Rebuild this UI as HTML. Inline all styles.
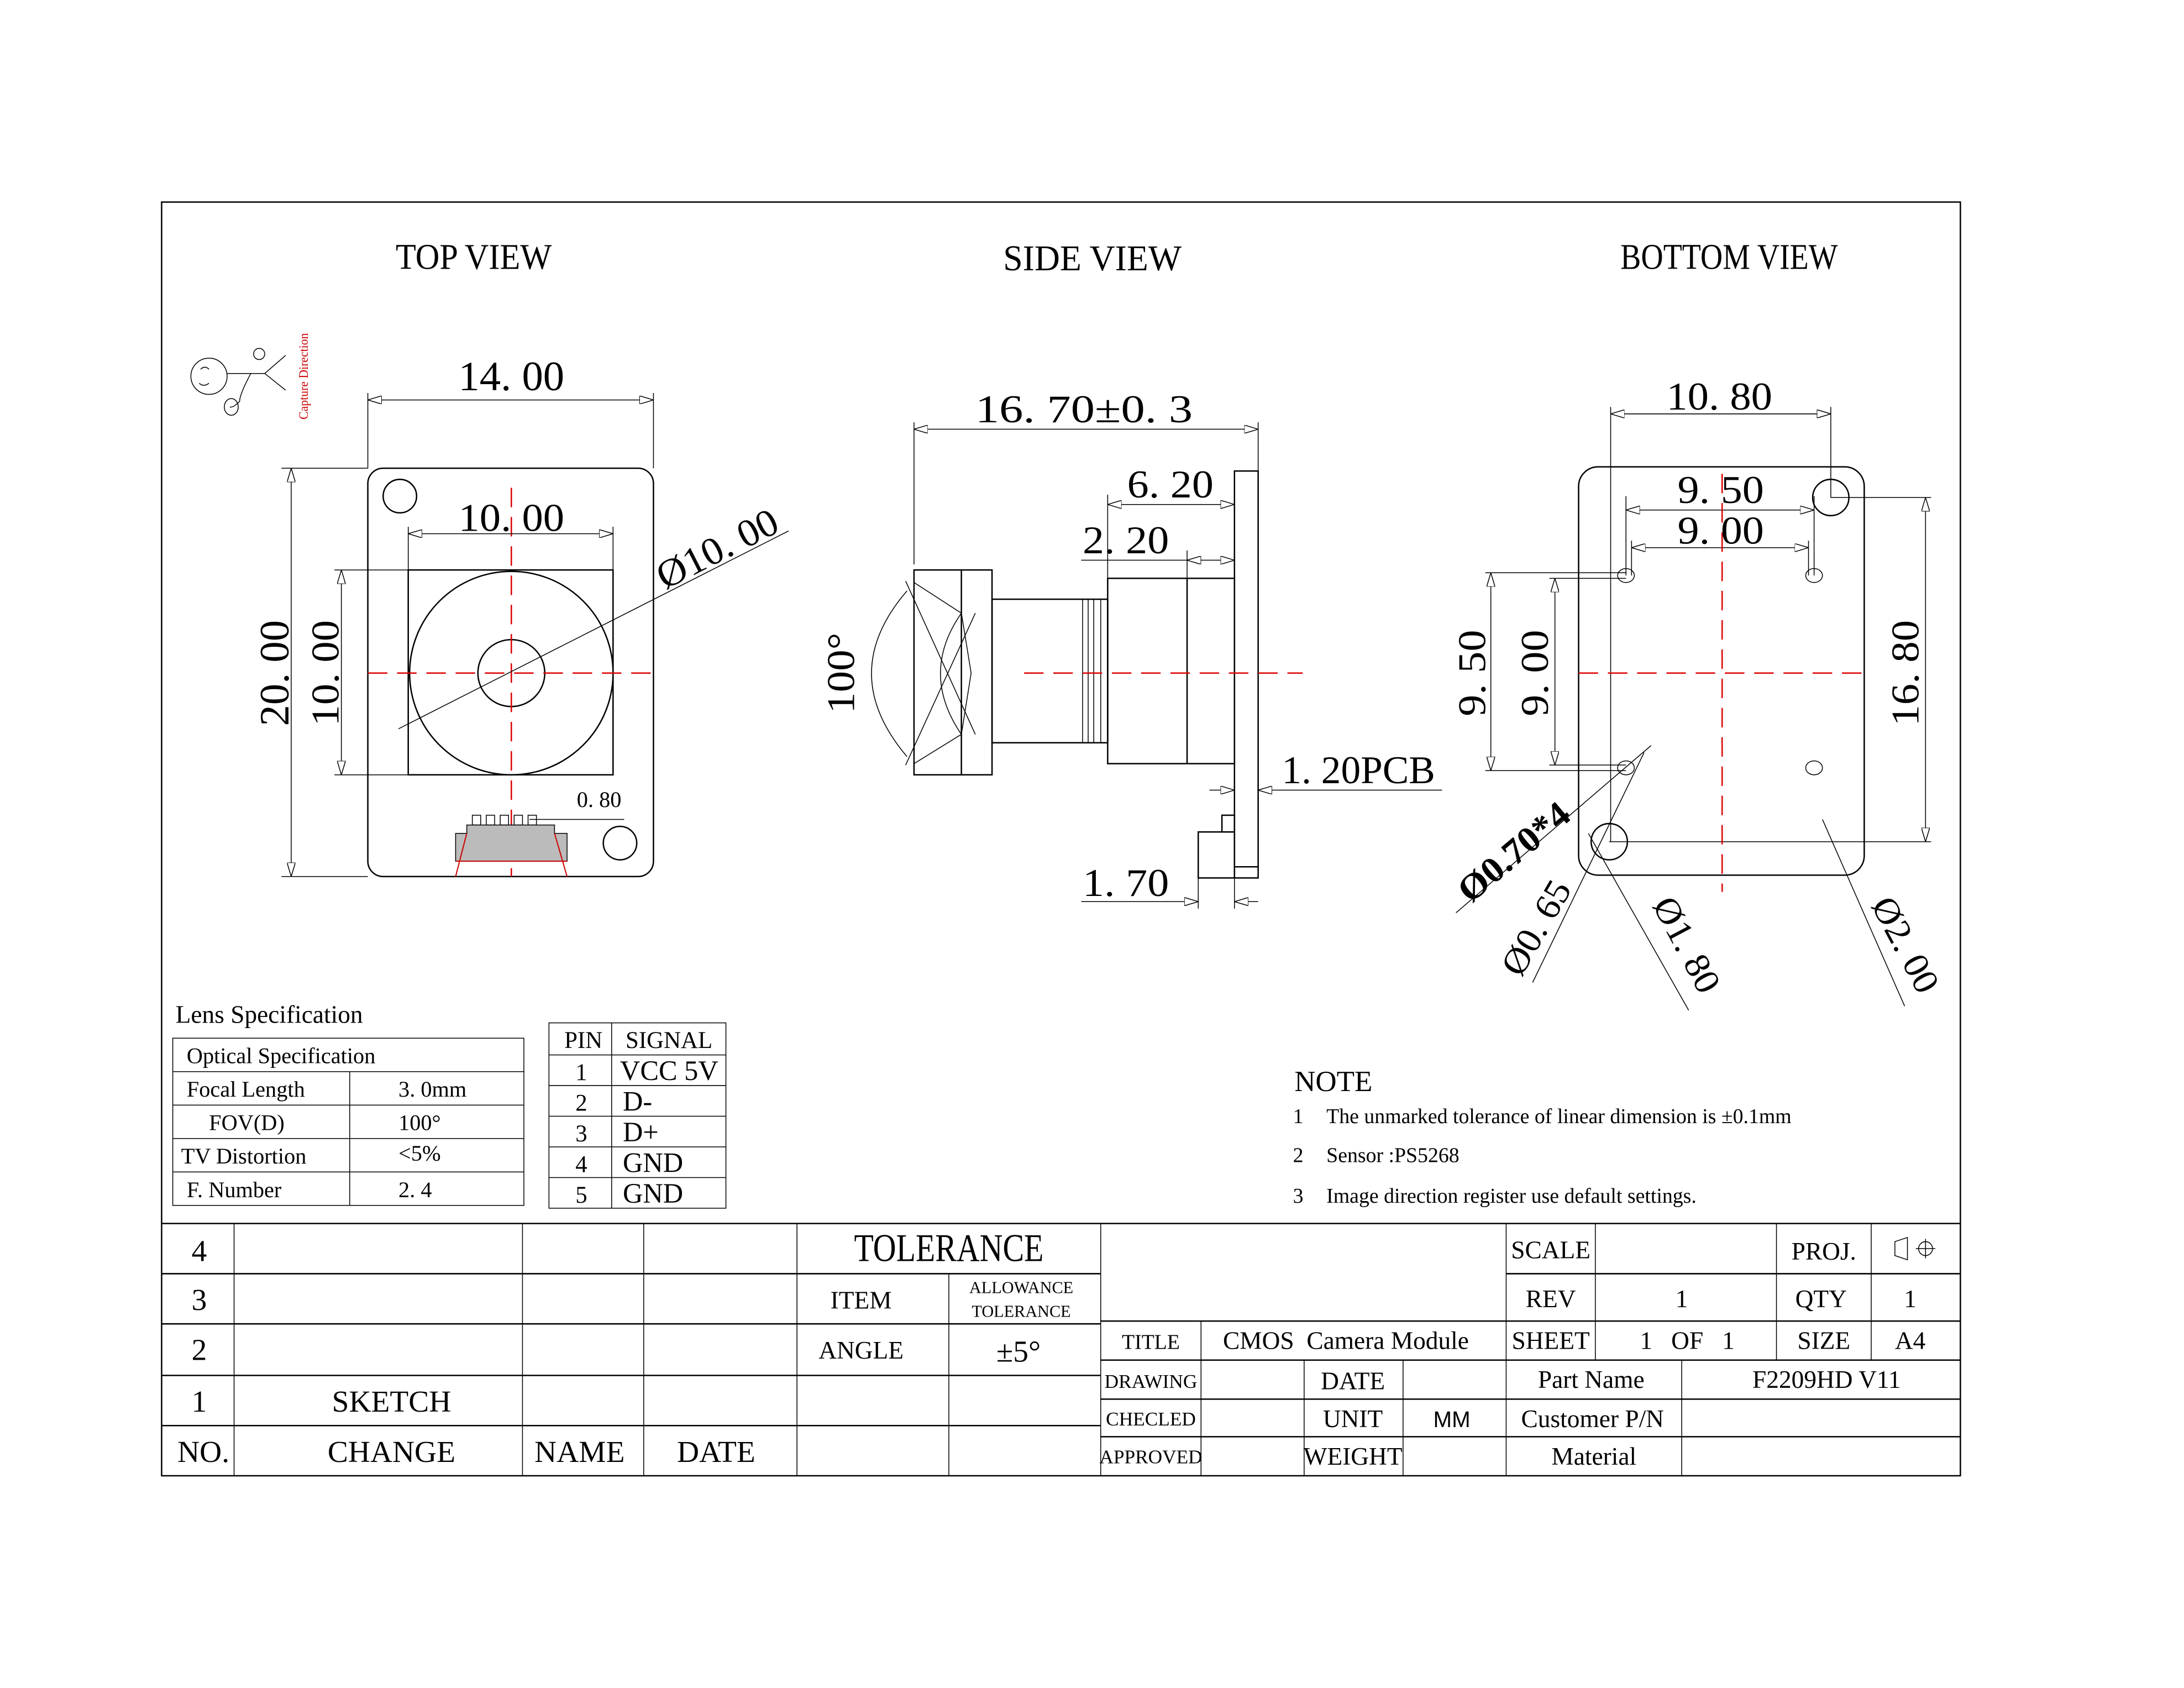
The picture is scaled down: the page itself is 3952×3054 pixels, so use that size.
<!DOCTYPE html>
<html><head><meta charset="utf-8"><style>
html,body{margin:0;padding:0;background:#fff}
svg{display:block}
text{font-family:"Liberation Serif",serif;fill:#000}
.l{stroke:#000;stroke-width:1;fill:none}
.t{stroke:#000;stroke-width:0.6;fill:none}
.r{stroke:#d00;stroke-width:1;fill:none;stroke-dasharray:14 7}
</style></head><body>
<svg width="3952" height="3054" viewBox="0 0 1567.5 1211.3" preserveAspectRatio="none" xmlns="http://www.w3.org/2000/svg">
<defs>
<marker id="a" viewBox="0 0 10 6" refX="10" refY="3" markerWidth="10" markerHeight="6" orient="auto-start-reverse" markerUnits="userSpaceOnUse"><path d="M0,0 L10,3 L0,6 Z" fill="#fff" stroke="#000" stroke-width="0.6"/></marker>
</defs>
<rect x="116" y="145" width="1291" height="914" class="l"/>
<text x="340" y="193" font-size="26" text-anchor="middle" textLength="112" lengthAdjust="spacingAndGlyphs">TOP VIEW</text>
<text x="784" y="194" font-size="26" text-anchor="middle" textLength="128" lengthAdjust="spacingAndGlyphs">SIDE VIEW</text>
<text x="1241" y="193" font-size="26" text-anchor="middle" textLength="156" lengthAdjust="spacingAndGlyphs">BOTTOM VIEW</text>

<g class="t">
<circle cx="150" cy="270" r="13"/>
<path d="M144,265 q3,-3 6,0 M150,275 q-4,3 -7,0"/>
<path d="M163,268 L190,268 L205,255 M190,268 L205,280 M180,268 q-8,15 -8,20 q-5,5 -7,4"/>
<circle cx="186" cy="254" r="4"/>
<ellipse cx="166" cy="292" rx="5" ry="6"/>
</g>
<text transform="translate(221,301) rotate(-90)" font-size="9" style="fill:#c00" textLength="62" lengthAdjust="spacingAndGlyphs">Capture Direction</text>

<rect x="264" y="336" width="205" height="293" rx="11" class="l"/>
<circle cx="287" cy="356" r="12" class="l"/>
<circle cx="445" cy="605" r="12" class="l"/>
<rect x="293" y="409" width="147" height="147" class="l"/>
<circle cx="367" cy="483" r="73" class="l"/>
<circle cx="367" cy="483" r="24" class="l"/>
<line x1="264" y1="483" x2="469" y2="483" class="r"/>
<line x1="367" y1="350" x2="367" y2="629" class="r"/>
<g class="t">
<line x1="264" y1="282" x2="264" y2="336"/><line x1="469" y1="282" x2="469" y2="336"/>
<line x1="264" y1="287" x2="469" y2="287" marker-start="url(#a)" marker-end="url(#a)"/>
<line x1="293" y1="378" x2="293" y2="409"/><line x1="440" y1="378" x2="440" y2="409"/>
<line x1="293" y1="383" x2="440" y2="383" marker-start="url(#a)" marker-end="url(#a)"/>
<line x1="202" y1="336" x2="264" y2="336"/><line x1="202" y1="629" x2="264" y2="629"/>
<line x1="209" y1="336" x2="209" y2="629" marker-start="url(#a)" marker-end="url(#a)"/>
<line x1="240" y1="409" x2="293" y2="409"/><line x1="240" y1="556" x2="293" y2="556"/>
<line x1="245" y1="409" x2="245" y2="556" marker-start="url(#a)" marker-end="url(#a)"/>
<line x1="286" y1="523" x2="566" y2="381"/>
<line x1="380" y1="588" x2="448" y2="588"/>
</g>
<text x="367" y="280" font-size="30" text-anchor="middle" textLength="76" lengthAdjust="spacingAndGlyphs">14. 00</text>
<text x="367" y="381" font-size="28" text-anchor="middle" textLength="76" lengthAdjust="spacingAndGlyphs">10. 00</text>
<text transform="translate(207,483) rotate(-90)" font-size="30" text-anchor="middle" textLength="76" lengthAdjust="spacingAndGlyphs">20. 00</text>
<text transform="translate(243,483) rotate(-90)" font-size="28" text-anchor="middle" textLength="76" lengthAdjust="spacingAndGlyphs">10. 00</text>
<text transform="translate(519,402) rotate(-27)" font-size="28" text-anchor="middle" textLength="94" lengthAdjust="spacingAndGlyphs">Ø10. 00</text>
<text x="430" y="579" font-size="16" text-anchor="middle">0. 80</text>
<g class="t">
<rect x="339" y="585" width="6" height="7"/><rect x="349" y="585" width="6" height="7"/><rect x="359" y="585" width="6" height="7"/><rect x="369" y="585" width="6" height="7"/><rect x="379" y="585" width="6" height="7"/>
</g>
<path d="M327,598 L335,598 L335,592 L398,592 L398,598 L407,598 L407,618 L327,618 Z" fill="#bbb" stroke="#000" stroke-width="0.6"/>
<path d="M335,598 L327,629 M398,598 L407,629 M327,618 L407,618" stroke="#c00" stroke-width="0.8" fill="none"/>

<g class="l">
<rect x="886" y="338" width="17" height="292"/>
<line x1="886" y1="622" x2="903" y2="622"/>
<rect x="860" y="597" width="26" height="33"/>
<rect x="877" y="585" width="9" height="12"/>
<rect x="795" y="415" width="91" height="133"/>
<line x1="852" y1="415" x2="852" y2="548"/>
<rect x="712" y="430" width="83" height="103"/>
<rect x="656" y="409" width="56" height="147"/>
<line x1="690" y1="409" x2="690" y2="556"/>
</g>
<g class="t">
<line x1="777" y1="430" x2="777" y2="533"/><line x1="781" y1="430" x2="781" y2="533"/><line x1="785" y1="430" x2="785" y2="533"/><line x1="790" y1="430" x2="790" y2="533"/>
<path d="M656,418 L690,440 L697,483 L690,527 L656,548"/>
<path d="M690,440 Q660,483 690,527"/>
<path d="M651,424 Q600,483 651,543"/>
<line x1="650" y1="417" x2="700" y2="527"/><line x1="650" y1="549" x2="700" y2="440"/>
<line x1="656" y1="303" x2="656" y2="405"/><line x1="903" y1="303" x2="903" y2="338"/>
<line x1="656" y1="308" x2="903" y2="308" marker-start="url(#a)" marker-end="url(#a)"/>
<line x1="795" y1="355" x2="795" y2="415"/>
<line x1="795" y1="362" x2="886" y2="362" marker-start="url(#a)" marker-end="url(#a)"/>
<line x1="852" y1="395" x2="852" y2="415"/>
<line x1="776" y1="402" x2="852" y2="402"/>
<line x1="852" y1="402" x2="886" y2="402" marker-start="url(#a)" marker-end="url(#a)"/>
<line x1="868" y1="567" x2="886" y2="567" marker-end="url(#a)"/>
<line x1="1035" y1="567" x2="903" y2="567" marker-end="url(#a)"/>
<line x1="860" y1="630" x2="860" y2="652"/><line x1="886" y1="630" x2="886" y2="652"/>
<line x1="776" y1="647" x2="860" y2="647" marker-end="url(#a)"/>
<line x1="903" y1="647" x2="886" y2="647" marker-end="url(#a)"/>
</g>
<line x1="735" y1="483" x2="935" y2="483" class="r"/>
<text x="778" y="303" font-size="28" text-anchor="middle" textLength="156" lengthAdjust="spacingAndGlyphs">16. 70±0. 3</text>
<text x="840" y="357" font-size="28" text-anchor="middle" textLength="62" lengthAdjust="spacingAndGlyphs">6. 20</text>
<text x="808" y="397" font-size="28" text-anchor="middle" textLength="62" lengthAdjust="spacingAndGlyphs">2. 20</text>
<text x="920" y="562" font-size="28" textLength="110" lengthAdjust="spacingAndGlyphs">1. 20PCB</text>
<text x="808" y="643" font-size="28" text-anchor="middle" textLength="62" lengthAdjust="spacingAndGlyphs">1. 70</text>
<text transform="translate(613,483) rotate(-90)" font-size="28" text-anchor="middle" textLength="58" lengthAdjust="spacingAndGlyphs">100°</text>

<rect x="1133" y="335" width="205" height="293" rx="14" class="l"/>
<circle cx="1314" cy="357" r="13" class="l"/>
<circle cx="1155" cy="604" r="13" class="l"/>
<g class="t">
<ellipse cx="1167" cy="413" rx="6" ry="5"/><ellipse cx="1302" cy="413" rx="6" ry="5"/>
<ellipse cx="1167" cy="551" rx="6" ry="5"/><ellipse cx="1302" cy="551" rx="6" ry="5"/>
<line x1="1156" y1="292" x2="1156" y2="604"/><line x1="1314" y1="292" x2="1314" y2="357"/>
<line x1="1156" y1="297" x2="1314" y2="297" marker-start="url(#a)" marker-end="url(#a)"/>
<line x1="1167" y1="356" x2="1167" y2="413"/><line x1="1302" y1="356" x2="1302" y2="413"/>
<line x1="1167" y1="366" x2="1302" y2="366" marker-start="url(#a)" marker-end="url(#a)"/>
<line x1="1171" y1="388" x2="1171" y2="413"/><line x1="1298" y1="388" x2="1298" y2="413"/>
<line x1="1171" y1="393" x2="1298" y2="393" marker-start="url(#a)" marker-end="url(#a)"/>
<line x1="1066" y1="411" x2="1167" y2="411"/><line x1="1066" y1="553" x2="1167" y2="553"/>
<line x1="1070" y1="411" x2="1070" y2="553" marker-start="url(#a)" marker-end="url(#a)"/>
<line x1="1112" y1="415" x2="1167" y2="415"/><line x1="1112" y1="549" x2="1167" y2="549"/>
<line x1="1116" y1="415" x2="1116" y2="549" marker-start="url(#a)" marker-end="url(#a)"/>
<line x1="1314" y1="357" x2="1386" y2="357"/><line x1="1155" y1="604" x2="1386" y2="604"/>
<line x1="1382" y1="357" x2="1382" y2="604" marker-start="url(#a)" marker-end="url(#a)"/>
<line x1="1045" y1="655" x2="1185" y2="535"/>
<line x1="1100" y1="705" x2="1180" y2="540"/>
<line x1="1140" y1="598" x2="1212" y2="725"/>
<line x1="1308" y1="588" x2="1367" y2="722"/>
</g>
<line x1="1133" y1="483" x2="1338" y2="483" class="r"/>
<line x1="1236" y1="340" x2="1236" y2="640" class="r"/>
<text x="1234" y="294" font-size="28" text-anchor="middle" textLength="76" lengthAdjust="spacingAndGlyphs">10. 80</text>
<text x="1235" y="361" font-size="28" text-anchor="middle" textLength="62" lengthAdjust="spacingAndGlyphs">9. 50</text>
<text x="1235" y="390" font-size="28" text-anchor="middle" textLength="62" lengthAdjust="spacingAndGlyphs">9. 00</text>
<text transform="translate(1066,483) rotate(-90)" font-size="28" text-anchor="middle" textLength="62" lengthAdjust="spacingAndGlyphs">9. 50</text>
<text transform="translate(1111,483) rotate(-90)" font-size="28" text-anchor="middle" textLength="62" lengthAdjust="spacingAndGlyphs">9. 00</text>
<text transform="translate(1377,483) rotate(-90)" font-size="28" text-anchor="middle" textLength="76" lengthAdjust="spacingAndGlyphs">16. 80</text>
<text transform="translate(1092,618) rotate(-40)" font-size="26" font-weight="bold" text-anchor="middle" textLength="96" lengthAdjust="spacingAndGlyphs">Ø0.70*4</text>
<text transform="translate(1110,670) rotate(-60)" font-size="26" text-anchor="middle" textLength="74" lengthAdjust="spacingAndGlyphs">Ø0. 65</text>
<text transform="translate(1203,682) rotate(62)" font-size="26" text-anchor="middle" textLength="74" lengthAdjust="spacingAndGlyphs">Ø1. 80</text>
<text transform="translate(1360,682) rotate(62)" font-size="26" text-anchor="middle" textLength="74" lengthAdjust="spacingAndGlyphs">Ø2. 00</text>

<text x="126" y="734" font-size="18">Lens Specification</text>
<g class="t">
<rect x="124" y="745" width="252" height="120"/>
<line x1="124" y1="769" x2="376" y2="769"/><line x1="124" y1="793" x2="376" y2="793"/>
<line x1="124" y1="817" x2="376" y2="817"/><line x1="124" y1="841" x2="376" y2="841"/>
<line x1="251" y1="769" x2="251" y2="865"/>
</g>
<g font-size="16">
<text x="134" y="763">Optical Specification</text>
<text x="134" y="787">Focal Length</text><text x="286" y="787">3. 0mm</text>
<text x="150" y="811">FOV(D)</text><text x="286" y="811">100°</text>
<text x="130" y="835">TV Distortion</text><text x="286" y="833">&lt;5%</text>
<text x="134" y="859">F. Number</text><text x="286" y="859">2. 4</text>
</g>
<g class="t">
<rect x="394" y="734" width="127" height="133"/>
<line x1="394" y1="757" x2="521" y2="757"/><line x1="394" y1="779" x2="521" y2="779"/>
<line x1="394" y1="801" x2="521" y2="801"/><line x1="394" y1="823" x2="521" y2="823"/>
<line x1="394" y1="845" x2="521" y2="845"/><line x1="439" y1="734" x2="439" y2="867"/>
</g>
<g font-size="17">
<text x="405" y="752">PIN</text><text x="449" y="752">SIGNAL</text>
<text x="413" y="775">1</text><text x="445" y="775" font-size="20">VCC 5V</text>
<text x="413" y="797">2</text><text x="447" y="797" font-size="20">D-</text>
<text x="413" y="819">3</text><text x="447" y="819" font-size="20">D+</text>
<text x="413" y="841">4</text><text x="447" y="841" font-size="20">GND</text>
<text x="413" y="863">5</text><text x="447" y="863" font-size="20">GND</text>
</g>
<text x="929" y="783" font-size="21">NOTE</text>
<g font-size="15">
<text x="928" y="806">1</text><text x="952" y="806">The unmarked tolerance of linear dimension is ±0.1mm</text>
<text x="928" y="834">2</text><text x="952" y="834">Sensor :PS5268</text>
<text x="928" y="863">3</text><text x="952" y="863">Image direction register use default settings.</text>
</g>

<g class="l">
<line x1="116" y1="878" x2="1407" y2="878"/>
<line x1="116" y1="914" x2="790" y2="914"/><line x1="1081" y1="914" x2="1407" y2="914"/>
<line x1="116" y1="950" x2="790" y2="950"/><line x1="790" y1="948" x2="1407" y2="948"/>
<line x1="116" y1="987" x2="790" y2="987"/><line x1="790" y1="976" x2="1407" y2="976"/>
<line x1="116" y1="1023" x2="790" y2="1023"/><line x1="790" y1="1004" x2="1407" y2="1004"/>
<line x1="790" y1="1031" x2="1407" y2="1031"/>
</g>
<g class="t">
<line x1="168" y1="878" x2="168" y2="1059"/><line x1="375" y1="878" x2="375" y2="1059"/>
<line x1="462" y1="878" x2="462" y2="1059"/><line x1="572" y1="878" x2="572" y2="1059"/>
<line x1="681" y1="914" x2="681" y2="1059"/><line x1="790" y1="878" x2="790" y2="1059"/>
<line x1="1081" y1="878" x2="1081" y2="1059"/><line x1="1145" y1="878" x2="1145" y2="976"/>
<line x1="1275" y1="878" x2="1275" y2="976"/><line x1="1343" y1="878" x2="1343" y2="976"/>
<line x1="862" y1="948" x2="862" y2="1059"/><line x1="936" y1="976" x2="936" y2="1059"/>
<line x1="1007" y1="976" x2="1007" y2="1059"/><line x1="1207" y1="976" x2="1207" y2="1059"/>
</g>
<g font-size="22">
<text x="143" y="905" text-anchor="middle">4</text>
<text x="143" y="940" text-anchor="middle">3</text>
<text x="143" y="976" text-anchor="middle">2</text>
<text x="143" y="1013" text-anchor="middle">1</text>
<text x="146" y="1049" text-anchor="middle">NO.</text>
<text x="281" y="1013" text-anchor="middle">SKETCH</text>
<text x="281" y="1049" text-anchor="middle">CHANGE</text>
<text x="416" y="1049" text-anchor="middle">NAME</text>
<text x="514" y="1049" text-anchor="middle">DATE</text>
<text x="681" y="905" text-anchor="middle" font-size="28" textLength="136" lengthAdjust="spacingAndGlyphs">TOLERANCE</text>
<text x="618" y="939" text-anchor="middle" font-size="18">ITEM</text>
<text x="618" y="975" text-anchor="middle" font-size="18">ANGLE</text>
<text x="731" y="977" text-anchor="middle">±5°</text>
</g>
<g font-size="12"><text x="733" y="928" text-anchor="middle">ALLOWANCE</text><text x="733" y="945" text-anchor="middle">TOLERANCE</text></g>
<g font-size="18">
<text x="1113" y="903" text-anchor="middle">SCALE</text>
<text x="1309" y="904" text-anchor="middle">PROJ.</text>
<text x="1113" y="938" text-anchor="middle">REV</text>
<text x="1207" y="938" text-anchor="middle">1</text>
<text x="1307" y="938" text-anchor="middle">QTY</text>
<text x="1371" y="938" text-anchor="middle">1</text>
<text x="1113" y="968" text-anchor="middle">SHEET</text>
<text x="1211" y="968" text-anchor="middle" xml:space="preserve">1   OF   1</text>
<text x="1309" y="968" text-anchor="middle">SIZE</text>
<text x="1371" y="968" text-anchor="middle">A4</text>
<text x="826" y="968" text-anchor="middle" font-size="15">TITLE</text>
<text x="966" y="968" text-anchor="middle" xml:space="preserve">CMOS  Camera Module</text>
<text x="826" y="996" text-anchor="middle" font-size="14">DRAWING</text>
<text x="971" y="997" text-anchor="middle">DATE</text>
<text x="1142" y="996" text-anchor="middle">Part Name</text>
<text x="1311" y="996" text-anchor="middle">F2209HD V11</text>
<text x="826" y="1023" text-anchor="middle" font-size="14">CHECLED</text>
<text x="971" y="1024" text-anchor="middle">UNIT</text>
<text x="1042" y="1024" text-anchor="middle" style="font-family:'Liberation Sans',sans-serif" font-size="16">MM</text>
<text x="1143" y="1024" text-anchor="middle">Customer P/N</text>
<text x="826" y="1050" text-anchor="middle" font-size="14">APPROVED</text>
<text x="971" y="1051" text-anchor="middle">WEIGHT</text>
<text x="1144" y="1051" text-anchor="middle">Material</text>
</g>
<g class="t"><path d="M1360,891 L1360,901 L1369,904 L1369,888 Z"/><circle cx="1382" cy="896" r="5"/><line x1="1375" y1="896" x2="1389" y2="896"/><line x1="1382" y1="889" x2="1382" y2="903"/></g>
</svg>
</body></html>
